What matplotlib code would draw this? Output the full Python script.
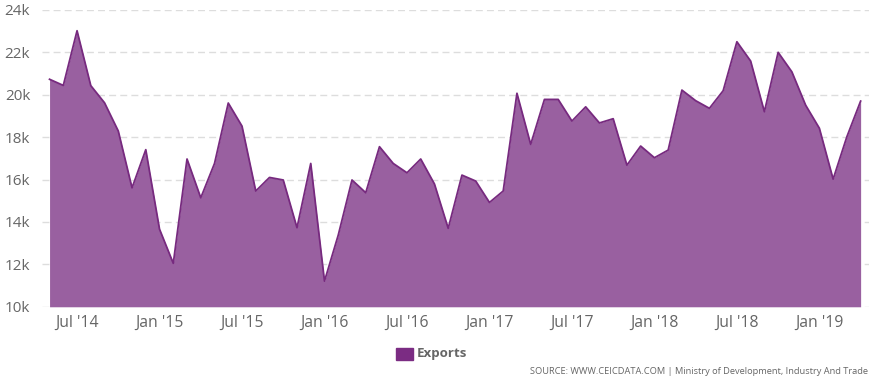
import matplotlib
matplotlib.use("Agg")
import matplotlib.pyplot as plt
from matplotlib import font_manager
from matplotlib.patches import Rectangle

months = ["May 2014", "Apr 2019"]
exports = [20.73, 20.44, 23.02, 20.43, 19.62, 18.29, 15.61, 17.41, 13.66, 12.05,
           16.97, 15.14, 16.76, 19.61, 18.52, 15.46, 16.10, 15.98, 13.73, 16.76,
           11.21, 13.38, 15.98, 15.38, 17.55, 16.76, 16.32, 16.97, 15.79, 13.70,
           16.21, 15.93, 14.92, 15.46, 20.07, 17.66, 19.78, 19.78, 18.76, 19.43,
           18.67, 18.87, 16.68, 17.58, 17.03, 17.39, 20.22, 19.72, 19.36, 20.19,
           22.50, 21.59, 19.20, 22.00, 21.08, 19.51, 18.42, 16.02, 18.02, 19.70]
xtick_labels = ["Jul '14", "Jan '15", "Jul '15", "Jan '16", "Jul '16", "Jan '17",
                "Jul '17", "Jan '18", "Jul '18", "Jan '19"]
xtick_pos = [2, 8, 14, 20, 26, 32, 38, 44, 50, 56]
ytick_vals = [10, 12, 14, 16, 18, 20, 22, 24]
ytick_labels = ["10k", "12k", "14k", "16k", "18k", "20k", "22k", "24k"]
series_name = "Exports"
source = "SOURCE: WWW.CEICDATA.COM | Ministry of Development, Industry And Trade"

names = {f.name for f in font_manager.fontManager.ttflist}
regular = "Open Sans" if "Open Sans" in names else "DejaVu Sans"

fill_c = "#9960a0"
line_c = "#772a7f"
text_c = "#666666"

fig = plt.figure(figsize=(8.75, 3.83), dpi=100)
ax = fig.add_axes([0.048, 0.199, 0.945, 0.775])
x = list(range(len(exports)))
ax.fill_between(x, 10, exports, color=fill_c, linewidth=0, zorder=2)
ax.plot(x, exports, color=line_c, linewidth=1.3, zorder=3)
ax.set_xlim(-0.55, 59.6)
ax.set_ylim(10, 24)
ax.set_yticks(ytick_vals)
ax.set_yticklabels(ytick_labels, fontfamily=regular, fontsize=11, color=text_c)
ax.set_xticks(xtick_pos)
ax.set_xticklabels(xtick_labels, fontfamily=regular, fontsize=11.3, color=text_c)
ax.tick_params(axis="both", length=0)
ax.tick_params(axis="x", pad=6)
ax.tick_params(axis="y", pad=8.5)
for s in ax.spines.values():
    s.set_visible(False)
ax.grid(axis="y", color="#dddddd", linestyle=(0, (5, 3)), linewidth=1, zorder=1)
ax.set_axisbelow(True)

# legend
fig.patches.append(Rectangle((396 / 875, 1 - 359.5 / 383), 17 / 875, 11.5 / 383,
                             transform=fig.transFigure, color="#7b2c83"))
fig.text(417 / 875, 1 - 353.5 / 383, series_name, fontfamily=regular, fontweight="bold",
         fontsize=9.6, color="#666666", va="center", ha="left")
fig.text(868 / 875, 1 - 371 / 383, source, fontfamily=regular, fontsize=6.65,
         color=text_c, va="center", ha="right")

fig.savefig("out.png", dpi=100)
